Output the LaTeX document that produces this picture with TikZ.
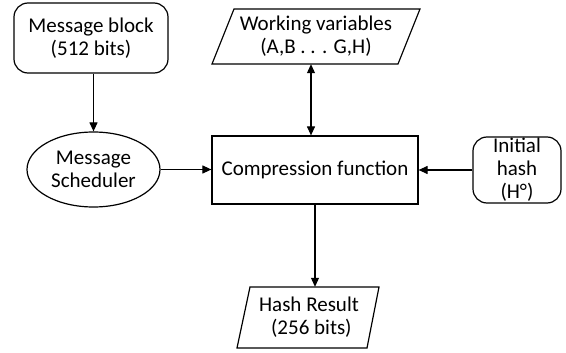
\documentclass[tikz,border=0pt]{standalone}
\usepackage{fontspec}
\setmainfont{Carlito}
\usetikzlibrary{shapes.geometric,arrows.meta,calc}

\begin{document}
\begin{tikzpicture}[x=1pt,y=-1pt,
  every node/.style={font=\fontsize{21}{23}\selectfont, align=center, inner sep=0pt},
  line/.style={line width=1.2pt, draw=black},
  roundbox/.style={line, rounded corners=14pt, fill=white},
  plainbox/.style={line, fill=white},
  ovalbox/.style={line, ellipse, fill=white},
  flow/.style={line width=1.1pt, -{Triangle[length=9pt,width=8pt]}},
  flowboth/.style={line width=1.1pt, {Triangle[length=9pt,width=8pt]}-{Triangle[length=9pt,width=8pt]}}
]
\useasboundingbox (0,0) rectangle (566,353);

% message block and scheduler
\node[roundbox, minimum width=154pt, minimum height=70pt] (mb) at (91,38) {Message block\\(512 bits)};
\node[ovalbox, minimum width=133pt, minimum height=75pt] (ms) at (93.5,169.5) {Message\\Scheduler};

% central compression step
\node[plainbox, minimum width=206pt, minimum height=68pt] (cf) at (315,170) {Compression function};

% initial hash value
\node[roundbox, minimum width=88pt, minimum height=66pt] (ih) at (517,170) {Initial\\hash\\(H°)};

% working variables (parallelogram outline drawn around the text node)
\node[minimum width=208pt, minimum height=55pt] (wv) at (316,36.5) {Working variables\\(A,B . . . G,H)};
\draw[plainbox] (212,64) -- (234,9) -- (420,9) -- (398,64) -- cycle;
\node at (wv) {Working variables\\(A,B . . . G,H)};

% hash result (parallelogram outline drawn around the text node)
\node[minimum width=142pt, minimum height=61pt] (hr) at (308,317.5) {};
\draw[plainbox] (237,348) -- (250,287) -- (379,287) -- (367,348) -- cycle;
\node at (309,317.5) {Hash Result\\\ (256 bits)};

% connectors
\draw[flow] (ms.north |- mb.south) -- (ms.north);
\draw[flow] (ms.east) -- (cf.west |- ms.east);
\draw[flow] (ih.west) -- (cf.east);
\draw[flowboth] ([xshift=-4pt]cf.north) -- ([xshift=-4pt]cf.north |- wv.south);
\draw[flow] (cf.south) -- (cf.south |- hr.north);
\end{tikzpicture}
\end{document}
